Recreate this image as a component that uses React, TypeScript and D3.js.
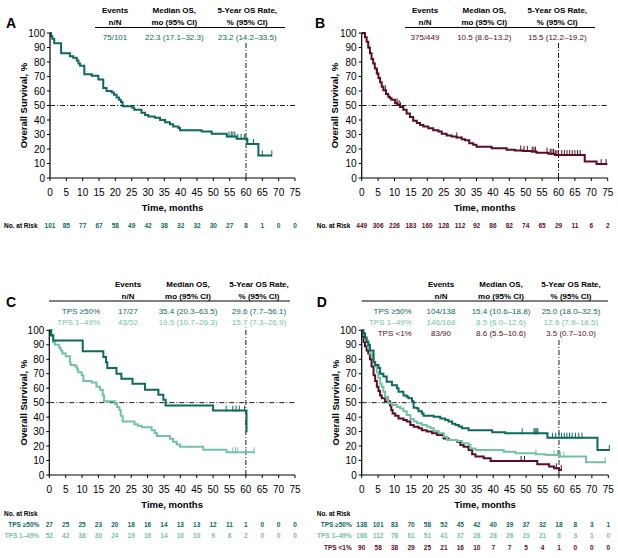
import React from 'react'
import * as d3 from 'd3'

const FONT = "'Liberation Sans', Arial, sans-serif"
const DARK = '#0b6a5b'
const LIGHT = '#72c2a5'
const MAROON = '#5a0c26'

const xTicks = [0, 5, 10, 15, 20, 25, 30, 35, 40, 45, 50, 55, 60, 65, 70, 75]
const yTicks = [0, 10, 20, 30, 40, 50, 60, 70, 80, 90, 100]

// panel A - all patients, 1L
const aTime = [0, 0.3, 0.7, 1.3, 3.4, 6.1, 7.1, 8.2, 8.7, 9.2, 10.5, 12.8, 14.8, 16.3, 17.3, 18.9, 19.6, 20.4, 21.1, 21.7, 22.2, 25.2, 25.8, 28, 29.1, 30.1, 32.1, 33.7, 35.2, 36.7, 37.7, 39.3, 39.8, 46.4, 49.5, 54.1, 57.1, 60.4, 63.8, 67.9]
const aSurv = [100, 98, 96, 93, 86, 84, 83, 81, 79, 77.5, 71.5, 70.5, 68, 62, 60, 59, 57.5, 55.5, 54, 52.5, 49.5, 48.5, 47, 45, 43.5, 42.5, 41.5, 40, 38.5, 37, 35.5, 34.5, 33, 32, 30.5, 28.7, 27, 23.5, 15.5, 15.5]
const aCensor = [54.8, 55.5, 56, 56.6, 57.5, 58.5, 59.5, 62.3, 65, 67.9]
const aRisk = [101, 85, 77, 67, 58, 49, 42, 38, 32, 32, 30, 27, 8, 1, 0, 0]

// panel B
const bTime = [0, 1, 1.5, 2, 2.5, 3, 3.5, 4, 4.6, 5.1, 5.6, 6.1, 6.6, 7.4, 8.1, 8.6, 9.1, 10.2, 10.9, 11.7, 12.7, 13.7, 14.7, 15.7, 16.8, 17.8, 18.8, 20.3, 21.8, 23.4, 24.4, 25.9, 27.4, 28.9, 30.5, 31.5, 32.8, 34, 35, 39.6, 44.2, 46.7, 49.2, 51.8, 53.3, 56.9, 58.9, 68, 71.6, 74.9]
const bSurv = [100, 97, 94, 90, 86, 82, 79, 75.5, 72, 69, 66, 63, 60.5, 58, 56, 55, 54, 51.5, 50.3, 49, 47, 44.5, 42, 39.5, 38, 36.5, 35.5, 34.3, 33, 32, 30.5, 29.3, 28.6, 28, 26.8, 26, 24, 23, 21.5, 20.5, 19.5, 19, 18.7, 18.2, 17.5, 16.7, 15.8, 11.4, 9.6, 9.6]
const bCensor = [2, 4.8, 7.2, 10.8, 11.4, 11.8, 29, 48.5, 49.5, 50.5, 52, 52.5, 53, 56.5, 57.5, 58, 58.5, 59, 59.5, 60, 61, 61.8, 62.6, 63.4, 64.2, 65, 65.8, 66.6, 73, 74.5]
const bRisk = [449, 306, 226, 183, 160, 128, 112, 92, 86, 82, 74, 65, 29, 11, 6, 2]

// panel C
const cHighTime = [0, 0.5, 1.2, 10.2, 16.5, 17.3, 17.7, 20.5, 22, 25.4, 29.2, 33.3, 34.8, 35.5, 50, 60.2]
const cHighSurv = [100, 96.5, 93, 85.5, 81.5, 78, 74, 70, 66.5, 63, 59, 55.5, 52, 48, 44.5, 29.6]
const cHighCensor = [54, 56, 57, 58, 59.6]
const cHighRisk = [27, 25, 25, 23, 20, 18, 16, 14, 13, 13, 12, 11, 1, 0, 0, 0]
const cLowTime = [0, 0.7, 1.2, 1.7, 3, 3.5, 4, 5, 6.3, 6.5, 8, 8.5, 8.8, 9.9, 10.4, 12.9, 14.4, 15.5, 16.3, 16.7, 20, 20.7, 21.4, 21.8, 22.4, 26, 27, 28.2, 31.2, 32.2, 32.8, 36.8, 37.8, 38.9, 39.9, 47, 54.1, 62.8]
const cLowSurv = [100, 96, 92, 90, 88, 86, 84, 82, 78, 76, 75, 73, 71, 69, 65, 64, 61, 59, 55, 51, 49, 47, 45, 41, 37, 35, 34, 33, 31, 29, 27, 25, 23, 21, 19.5, 17.5, 15.7, 15.7]
const cLowCensor = [56, 56.8, 57.5, 60, 62.5]
const cLowRisk = [52, 42, 38, 30, 24, 19, 16, 14, 10, 10, 9, 8, 2, 0, 0, 0]

// panel D
const dHighTime = [0, 0.5, 1, 1.5, 2, 2.5, 3.6, 4.1, 5.1, 5.6, 6.6, 7.6, 9.2, 10.7, 11.2, 12.7, 13.7, 14.2, 15.3, 15.8, 16.8, 17.3, 18.3, 18.8, 21.9, 23.9, 25.4, 26.4, 27.5, 28.5, 29.5, 30.5, 32.5, 39.7, 43.7, 56.5, 71.7, 75.3]
const dHighSurv = [100, 98, 95, 92, 90, 86, 78, 76, 74, 70, 68, 64.5, 62, 60, 57.5, 55, 54, 53, 51, 46.5, 46, 44, 42.5, 41, 40.3, 39, 38, 37, 35.5, 34.5, 33.5, 32.3, 31, 29.5, 28.8, 25.8, 17.3, 17.3]
const dHighCensor = [48.8, 52.4, 52.7, 53, 53.3, 53.6, 58, 59, 60, 60.8, 61.6, 62.4, 63.2, 64, 65, 66, 67, 75.3]
const dHighRisk = [138, 101, 83, 70, 58, 52, 45, 42, 40, 39, 37, 32, 18, 8, 3, 1]
const dMidTime = [0, 0.5, 1, 2, 2.5, 3, 3.6, 4.1, 4.6, 5.1, 5.6, 6.1, 6.6, 7.1, 7.6, 8.1, 9.2, 10.7, 11.7, 12.7, 13.7, 14.8, 15.8, 16.8, 18.3, 19.8, 20.9, 21.9, 23.4, 25, 26, 29, 30.5, 32.5, 33.1, 34.6, 43.2, 46.8, 52.9, 56, 60, 68.2, 74.1]
const dMidSurv = [100, 97, 93, 87.5, 84, 82, 78, 75, 71, 67, 63, 61, 57.5, 54, 52, 49.5, 48.4, 47, 46, 44, 41.5, 38.7, 37, 35.7, 34.6, 33.4, 32.3, 30.4, 28.8, 26.5, 24.2, 23.5, 22, 20.7, 18.4, 17.3, 16.1, 15, 14.3, 13.8, 12.8, 8.8, 8.8]
const dMidCensor = [53, 58.5, 59.5, 60.5, 61.5, 74.1]
const dMidRisk = [168, 112, 78, 61, 51, 41, 37, 28, 28, 26, 23, 21, 8, 3, 1, 0]
const dLowTime = [0, 0.3, 0.6, 1, 1.5, 2, 2.5, 3, 3.6, 4.1, 4.6, 5.1, 5.6, 6.1, 7.1, 8.6, 9, 9.4, 10.2, 11.2, 12.7, 13.7, 14.8, 15.8, 17.3, 18.3, 19.8, 21.4, 22.9, 24.9, 26.4, 29, 30, 31, 32.5, 33.6, 34.6, 37.1, 39.2, 53.4, 57, 58.5, 60, 60.7]
const dLowSurv = [100, 96, 92, 89, 86, 84, 80, 75, 69, 65, 61, 58, 55, 53, 51, 48, 45, 42.5, 41, 39, 38, 37, 34.6, 33.4, 32.3, 31, 30, 28.8, 27.6, 25.3, 24.2, 23, 20.7, 19.6, 17.3, 14.3, 12.7, 11.5, 9.7, 7.4, 5.8, 4.6, 3.5, 3.5]
const dLowCensor = [8, 48.5, 49.5, 59.2, 60.7]
const dLowRisk = [90, 58, 38, 29, 25, 21, 16, 10, 7, 7, 5, 4, 1, 0, 0, 0]

const headTitles = [['Events', 'n/N'], ['Median OS,', 'mo (95% CI)'], ['5-Year OS Rate,', '% (95% CI)']]

type Curve = { time: number[]; surv: number[]; censor: number[]; color: string }
type Row = { label: string; cells: string[]; color: string }
type Risk = { label: string; values: number[]; color: string }
type PanelCfg = {
  letter: string; letterX: number; letterY: number
  left: number; right: number; top: number; bottom: number
  yLabelX: number
  headY: number; headLine: [number, number]; cols: number[]; labelRight: number
  rows: Row[]; curves: Curve[]; risk: Risk[]; riskInline: boolean; riskX: number
}

const panels: PanelCfg[] = [
  {
    letter: 'A', letterX: 6, letterY: 28, left: 50, right: 295, top: 33, bottom: 178, yLabelX: 23,
    headY: 27.5, headLine: [95, 285], cols: [115, 174.3, 247.3], labelRight: 0,
    rows: [{ label: '', cells: ['75/101', '22.3 (17.1–32.3)', '23.2 (14.2–33.5)'], color: DARK }],
    curves: [{ time: aTime, surv: aSurv, censor: aCensor, color: DARK }],
    risk: [{ label: '', values: aRisk, color: DARK }], riskInline: true, riskX: 4,
  },
  {
    letter: 'B', letterX: 315, letterY: 28, left: 361.7, right: 607.7, top: 33, bottom: 178, yLabelX: 334,
    headY: 27.5, headLine: [405, 595], cols: [425, 484.3, 557.3], labelRight: 0,
    rows: [{ label: '', cells: ['375/449', '10.5 (8.6–13.2)', '15.5 (12.2–19.2)'], color: MAROON }],
    curves: [{ time: bTime, surv: bSurv, censor: bCensor, color: MAROON }],
    risk: [{ label: '', values: bRisk, color: MAROON }], riskInline: true, riskX: 316.7,
  },
  {
    letter: 'C', letterX: 6, letterY: 307, left: 49.3, right: 295, top: 330.3, bottom: 475, yLabelX: 23,
    headY: 301, headLine: [49, 290], cols: [128, 188, 259], labelRight: 100,
    rows: [
      { label: 'TPS ≥50%', cells: ['17/27', '35.4 (20.3–63.5)', '29.6 (7.7–56.1)'], color: DARK },
      { label: 'TPS 1–49%', cells: ['43/52', '19.5 (10.7–26.3)', '15.7 (7.3–26.9)'], color: LIGHT },
    ],
    curves: [
      { time: cLowTime, surv: cLowSurv, censor: cLowCensor, color: LIGHT },
      { time: cHighTime, surv: cHighSurv, censor: cHighCensor, color: DARK },
    ],
    risk: [
      { label: 'TPS ≥50%', values: cHighRisk, color: DARK },
      { label: 'TPS 1–49%', values: cLowRisk, color: LIGHT },
    ], riskInline: false, riskX: 4,
  },
  {
    letter: 'D', letterX: 316.7, letterY: 307, left: 361.7, right: 608.3, top: 330.3, bottom: 475, yLabelX: 335,
    headY: 301, headLine: [361.7, 608], cols: [441, 501, 571], labelRight: 411.7,
    rows: [
      { label: 'TPS ≥50%', cells: ['104/138', '15.4 (10.6–18.8)', '25.0 (18.0–32.5)'], color: DARK },
      { label: 'TPS 1–49%', cells: ['146/168', '8.5 (6.0–12.6)', '12.6 (7.9–18.5)'], color: LIGHT },
      { label: 'TPS <1%', cells: ['83/90', '8.6 (5.5–10.6)', '3.5 (0.7–10.0)'], color: MAROON },
    ],
    curves: [
      { time: dLowTime, surv: dLowSurv, censor: dLowCensor, color: MAROON },
      { time: dMidTime, surv: dMidSurv, censor: dMidCensor, color: LIGHT },
      { time: dHighTime, surv: dHighSurv, censor: dHighCensor, color: DARK },
    ],
    risk: [
      { label: 'TPS ≥50%', values: dHighRisk, color: DARK },
      { label: 'TPS 1–49%', values: dMidRisk, color: LIGHT },
      { label: 'TPS <1%', values: dLowRisk, color: MAROON },
    ], riskInline: false, riskX: 316.7,
  },
]

function Panel({ p }: { p: PanelCfg }) {
  const x = d3.scaleLinear().domain([0, 75]).range([p.left, p.right])
  const y = d3.scaleLinear().domain([0, 100]).range([p.bottom, p.top])
  const line = d3.line<[number, number]>().x(d => x(d[0])).y(d => y(d[1])).curve(d3.curveStepAfter)
  const lastRowY = p.headY + 12.5 + (p.rows.length - 1) * 11
  const midX = (p.left + p.right) / 2
  const midY = (p.top + p.bottom) / 2

  return (
    <g fontFamily={FONT}>
      <text x={p.letterX} y={p.letterY} fontSize={14} fontWeight="bold">{p.letter}</text>

      {/* header table */}
      {headTitles.map((t, i) => (
        <g key={i} fontSize={8} fontWeight="bold" textAnchor="middle">
          <text x={p.cols[i]} y={p.headY - 14.5}>{t[0]}</text>
          <text x={p.cols[i]} y={p.headY - 2.5}>{t[1]}</text>
        </g>
      ))}
      <line x1={p.headLine[0]} x2={p.headLine[1]} y1={p.headY} y2={p.headY} stroke="#000" strokeWidth={1} />
      {p.rows.map((r, j) => (
        <g key={j} fontSize={8} fill={r.color}>
          {r.label && <text x={p.labelRight} y={p.headY + 12.5 + j * 11} textAnchor="end">{r.label}</text>}
          {r.cells.map((c, i) => (
            <text key={i} x={p.cols[i]} y={p.headY + 12.5 + j * 11} textAnchor="middle">{c}</text>
          ))}
        </g>
      ))}

      {/* reference lines */}
      <line x1={x(0)} x2={x(75)} y1={y(50)} y2={y(50)} stroke="#000" strokeWidth={0.9} strokeDasharray="5,2,1,2" />
      <line x1={x(60)} x2={x(60)} y1={y(0)} y2={lastRowY + 3} stroke="#000" strokeWidth={0.9} strokeDasharray="5,2,1,2" />

      {/* curves */}
      {p.curves.map((c, k) => (
        <g key={k}>
          <path d={line(c.time.map((t, i) => [t, c.surv[i]] as [number, number])) || ''}
            fill="none" stroke={c.color} strokeWidth={2} />
          {c.censor.map((t, i) => {
            const s = c.surv[Math.max(0, d3.bisectRight(c.time, t) - 1)]
            return <line key={i} x1={x(t)} x2={x(t)} y1={y(s) + 1} y2={y(s) - 5} stroke={c.color} strokeWidth={1} />
          })}
        </g>
      ))}

      {/* axes */}
      <line x1={p.left} x2={p.right} y1={p.bottom} y2={p.bottom} stroke="#000" strokeWidth={1.2} />
      <line x1={p.left} x2={p.left} y1={p.bottom} y2={p.top} stroke="#000" strokeWidth={1.2} />
      {xTicks.map(t => (
        <g key={t}>
          <line x1={x(t)} x2={x(t)} y1={p.bottom} y2={p.bottom + 3} stroke="#000" strokeWidth={1} />
          <text x={x(t)} y={p.bottom + 18} fontSize={10} textAnchor="middle">{t}</text>
        </g>
      ))}
      {yTicks.map(t => (
        <g key={t}>
          <line x1={p.left - 3} x2={p.left} y1={y(t)} y2={y(t)} stroke="#000" strokeWidth={1} />
          <text x={p.left - 5} y={y(t) + 3.5} fontSize={10} textAnchor="end">{t}</text>
        </g>
      ))}
      <text x={midX} y={p.bottom + 33} fontSize={9.5} fontWeight="bold" textAnchor="middle">Time, months</text>
      <text transform={`translate(${p.yLabelX},${midY}) rotate(-90)`} fontSize={9.5} fontWeight="bold"
        textAnchor="middle" dominantBaseline="central">Overall Survival, %</text>

      {/* numbers at risk */}
      {p.riskInline ? (
        <g fontSize={6.5} fontWeight="bold">
          <text x={p.riskX} y={p.bottom + 50}>No. at Risk</text>
          {p.risk[0].values.map((v, i) => (
            <text key={i} x={x(xTicks[i])} y={p.bottom + 50} textAnchor="middle" fill={p.risk[0].color}>{v}</text>
          ))}
        </g>
      ) : (
        <g fontSize={6.5} fontWeight="bold">
          <text x={p.riskX} y={p.bottom + 40.5}>No. at Risk</text>
          {p.risk.map((r, j) => (
            <g key={j} fill={r.color}>
              <text x={p.left - 10} y={p.bottom + 52 + j * 11.3} textAnchor="end">{r.label}</text>
              {r.values.map((v, i) => (
                <text key={i} x={x(xTicks[i])} y={p.bottom + 52 + j * 11.3} textAnchor="middle">{v}</text>
              ))}
            </g>
          ))}
        </g>
      )}
    </g>
  )
}

export default function App() {
  return (
    <svg width={618} height={558} style={{ position: 'absolute', left: 0, top: 0, background: '#fff' }}>
      {panels.map(p => <Panel key={p.letter} p={p} />)}
    </svg>
  )
}
